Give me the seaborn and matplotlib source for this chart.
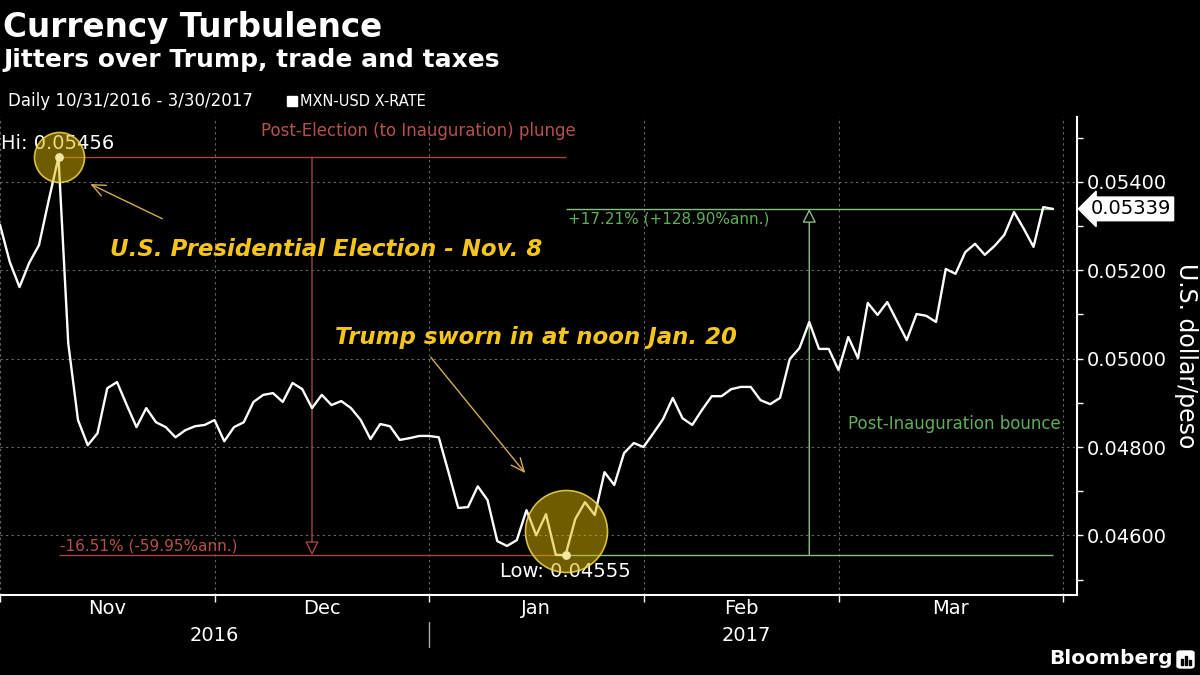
import numpy as np
import pandas as pd
import matplotlib
matplotlib.use("Agg")
import matplotlib.pyplot as plt
import matplotlib.transforms as mtransforms
from matplotlib.patches import Rectangle, FancyBboxPatch
import seaborn as sns

# ------------------------------------------------------------
# data (daily MXN-USD, business days 10/31/2016 - 3/30/2017)
# ------------------------------------------------------------
start_date = "2016-10-31"
end_date = "2017-03-30"
rate_values = [
    0.05303, 0.05219, 0.05162, 0.05217, 0.05257, 0.05359, 0.05456, 0.05035, 0.04861, 0.04804,
    0.04831, 0.04933, 0.04947, 0.04895, 0.04845, 0.04888, 0.04856, 0.04845, 0.04822, 0.04838,
    0.04847, 0.04850, 0.04861, 0.04813, 0.04845, 0.04856, 0.04902, 0.04918, 0.04922, 0.04902,
    0.04945, 0.04931, 0.04888, 0.04918, 0.04895, 0.04904, 0.04888, 0.04861, 0.04818, 0.04852,
    0.04847, 0.04816, 0.04820, 0.04825, 0.04825, 0.04822, 0.04743, 0.04662, 0.04664, 0.04711,
    0.04680, 0.04587, 0.04576, 0.04589, 0.04657, 0.04600, 0.04648, 0.04556, 0.04555, 0.04637,
    0.04675, 0.04646, 0.04743, 0.04714, 0.04786, 0.04809, 0.04800, 0.04831, 0.04863, 0.04911,
    0.04865, 0.04850, 0.04884, 0.04915, 0.04915, 0.04931, 0.04936, 0.04936, 0.04906, 0.04897,
    0.04911, 0.04999, 0.05024, 0.05083, 0.05022, 0.05022, 0.04974, 0.05049, 0.05001, 0.05126,
    0.05099, 0.05128, 0.05085, 0.05042, 0.05101, 0.05097, 0.05083, 0.05203, 0.05192, 0.05241,
    0.05260, 0.05235, 0.05255, 0.05280, 0.05332, 0.05294, 0.05253, 0.05343, 0.05339,
]
month_names = ["Nov", "Dec", "Jan", "Feb", "Mar"]
year_names = ["2016", "2017"]
y_major = [0.046, 0.048, 0.050, 0.052, 0.054]
y_minor = [0.045, 0.047, 0.049, 0.051, 0.053, 0.055]

drop_label = "-16.51% (-59.95%ann.)"
rise_label = "+17.21% (+128.90%ann.)"

dates = pd.bdate_range(start_date, end_date)
df = pd.DataFrame({"date": dates, "pos": np.arange(len(dates)), "rate": rate_values})

# month-end positions (last business day of each month) for ticks / grid
full_days = pd.bdate_range(start_date, "2017-03-31")
pos_s = pd.Series(np.arange(len(full_days)), index=full_days)
month_ends = pos_s.groupby(full_days.to_period("M")).max().values
year_ends = pos_s.groupby(full_days.year).max().values

# colours
RED_LINE = "#9c4742"
RED_TXT = "#b5514c"
GRN_LINE = "#86bd80"
GRN_TXT = "#5fae5a"
YEL = "#f5c518"
ARROW_YEL = "#d2ad52"
GRID = "#6a6a6a"

# ------------------------------------------------------------
# style
# ------------------------------------------------------------
sns.set_theme(style="dark")
plt.rcParams.update({
    "figure.facecolor": "black",
    "axes.facecolor": "black",
    "savefig.facecolor": "black",
    "text.color": "white",
    "axes.labelcolor": "white",
    "xtick.color": "white",
    "ytick.color": "white",
})
plt.rcParams["font.family"] = ["DejaVu Sans"]

fig = plt.figure(figsize=(12, 6.75), dpi=100)
ax = fig.add_axes([0.0, 0.11852, 0.8975, 0.70815])

sns.lineplot(data=df, x="pos", y="rate", color="white", lw=1.7, ax=ax, zorder=4)

ax.set_xlim(0, 110.46)
ax.set_ylim(0.04465, 0.05547)
ax.set_xlabel("")
ax.set_ylabel("")

# spines
for s in ["left", "top"]:
    ax.spines[s].set_visible(False)
for s in ["right", "bottom"]:
    ax.spines[s].set_visible(True)
    ax.spines[s].set_color("white")
    ax.spines[s].set_linewidth(1.5)

# y axis on the right
ax.yaxis.tick_right()
ax.set_yticks(y_major)
ax.set_yticklabels([f"{v:.5f}" for v in y_major])
ax.set_yticks(y_minor, minor=True)
ax.tick_params(axis="y", which="both", direction="out", length=4.5, width=1,
               pad=2.5, labelsize=14, colors="white", right=True, left=False)

# x axis: ticks at month ends, month names in between
ax.set_xticks(month_ends)
ax.set_xticklabels([""] * len(month_ends))
mids = (month_ends[:-1] + month_ends[1:]) / 2
ax.set_xticks(mids, minor=True)
ax.set_xticklabels(month_names, minor=True)
ax.tick_params(axis="x", which="major", direction="out", length=5, width=1, bottom=True)
ax.tick_params(axis="x", which="minor", length=0, pad=3, labelsize=14, bottom=True)

ax.grid(True, which="major", color=GRID, ls=(0, (2, 3)), lw=0.8)

# year labels below month names
trans = mtransforms.blended_transform_factory(ax.transData, ax.transAxes)
year_edges = np.concatenate([[month_ends[0]], year_ends])
for i, yr in enumerate(year_names):
    ax.text((year_edges[i] + year_edges[i + 1]) / 2, -0.084, yr, transform=trans,
            ha="center", va="center", fontsize=14, color="white")
ax.plot([year_ends[0], year_ends[0]], [-0.056, -0.109], transform=trans,
        color="#aaaaaa", lw=1, clip_on=False)

# ------------------------------------------------------------
# annotations
# ------------------------------------------------------------
rate = np.array(rate_values)
hi_i, lo_i, last_i = int(rate.argmax()), int(rate.argmin()), len(rate) - 1
hi_v, lo_v, last_v = rate[hi_i], rate[lo_i], rate[last_i]

# post-election plunge (red)
ax.hlines([hi_v, lo_v], hi_i, lo_i, color=RED_LINE, lw=1, zorder=3)
mid_red = (hi_i + lo_i) / 2
ax.annotate("", xy=(mid_red, lo_v), xytext=(mid_red, hi_v),
            arrowprops=dict(arrowstyle="-|>,head_length=0.7,head_width=0.35",
                            ec=RED_LINE, fc="black", lw=1, shrinkA=0, shrinkB=0), zorder=3)
ax.text(lo_i + 1, 0.05516, "Post-Election (to Inauguration) plunge", color=RED_TXT,
        fontsize=12, ha="right", va="center")
ax.text(hi_i + 0.2, 0.04576, drop_label, color=RED_TXT, fontsize=11, ha="left", va="center")

# post-inauguration bounce (green)
ax.hlines([lo_v, last_v], lo_i, last_i, color=GRN_LINE, lw=1, zorder=3)
mid_grn = (lo_i + last_i) / 2
ax.annotate("", xy=(mid_grn, last_v), xytext=(mid_grn, lo_v),
            arrowprops=dict(arrowstyle="-|>,head_length=0.7,head_width=0.35",
                            ec=GRN_LINE, fc="black", lw=1, shrinkA=0, shrinkB=0), zorder=3)
ax.text(lo_i + 0.3, 0.05316, rise_label, color=GRN_TXT, fontsize=11, ha="left", va="center")
ax.text(108.8, 0.04852, "Post-Inauguration bounce", color=GRN_TXT, fontsize=12,
        ha="right", va="center")

# hi / low labels and highlight circles
ax.text(0.1, 0.05488, f"Hi: {hi_v:.5f}", color="white", fontsize=14, ha="left", va="center", zorder=3)
ax.text(lo_i, 0.04519, f"Low: {lo_v:.5f}", color="white", fontsize=14, ha="center", va="center", zorder=3)

ax.scatter([hi_i], [hi_v], s=1296, fc=(0.86, 0.72, 0.0, 0.5), ec=(0.95, 0.85, 0.3, 0.85),
           lw=1.2, zorder=6)
ax.scatter([lo_i], [0.04609], s=3486, fc=(0.86, 0.72, 0.0, 0.5), ec=(0.95, 0.85, 0.3, 0.85),
           lw=1.2, zorder=6)
ax.scatter([hi_i, lo_i], [hi_v, lo_v], s=40, color="#f4e7a2", lw=0, zorder=7)

# event call-outs
ax.text(11.3, 0.05246, "U.S. Presidential Election - Nov. 8", color=YEL, fontsize=16.5,
        fontweight="bold", fontstyle="italic", ha="left", va="center")
ax.annotate("", xy=(9.0, 0.05398), xytext=(16.9, 0.05314),
            arrowprops=dict(arrowstyle="->,head_length=0.8,head_width=0.35",
                            color=ARROW_YEL, lw=1))
ax.text(34.4, 0.05047, "Trump sworn in at noon Jan. 20", color=YEL, fontsize=16.5,
        fontweight="bold", fontstyle="italic", ha="left", va="center")
ax.annotate("", xy=(54.05, 0.04736), xytext=(44.0, 0.05008),
            arrowprops=dict(arrowstyle="->,head_length=0.8,head_width=0.35",
                            color=ARROW_YEL, lw=1))

# last value tag on the right axis
ax.annotate(f"{last_v:.5f}", xy=(1, last_v), xycoords=("axes fraction", "data"),
            xytext=(10, 0), textcoords="offset points", ha="left", va="center",
            fontsize=14, color="black", annotation_clip=False,
            bbox=dict(boxstyle="larrow,pad=0.12", fc="white", ec="white"))

# y label
fig.text(1186 / 1200, 1 - 356 / 675, "U.S. dollar/peso", rotation=270, fontsize=17,
         ha="center", va="center", color="white")

# ------------------------------------------------------------
# titles, legend, source
# ------------------------------------------------------------
fig.text(3 / 1200, 1 - 37 / 675, "Currency Turbulence", fontsize=23.5, fontweight="bold",
         va="baseline", ha="left")
fig.text(3 / 1200, 1 - 67 / 675, "Jitters over Trump, trade and taxes", fontsize=18,
         fontweight="bold", va="baseline", ha="left")
fig.text(8 / 1200, 1 - 106 / 675, "Daily 10/31/2016 - 3/30/2017", fontsize=12,
         va="baseline", ha="left")
fig.patches.append(Rectangle((287 / 1200, 1 - 106 / 675), 10 / 1200, 10 / 675,
                             transform=fig.transFigure, color="white"))
fig.text(300 / 1200, 1 - 106 / 675, "MXN-USD X-RATE", fontsize=10.5, va="baseline", ha="left")

fig.text(1049 / 1200, 1 - 659 / 675, "Bloomberg", fontsize=14.5, fontweight="bold",
         va="center", ha="left")
fig.patches.append(FancyBboxPatch((1177 / 1200, 1 - 668 / 675), 17 / 1200, 17 / 675,
                                  boxstyle="round,pad=0,rounding_size=0.003",
                                  transform=fig.transFigure, color="white"))
for bx, bh in [(1181, 6), (1185, 9), (1189, 5)]:
    fig.patches.append(Rectangle((bx / 1200, 1 - 665 / 675), 2 / 1200, bh / 675,
                                 transform=fig.transFigure, color="black"))

fig.savefig("out.png", dpi=100)
